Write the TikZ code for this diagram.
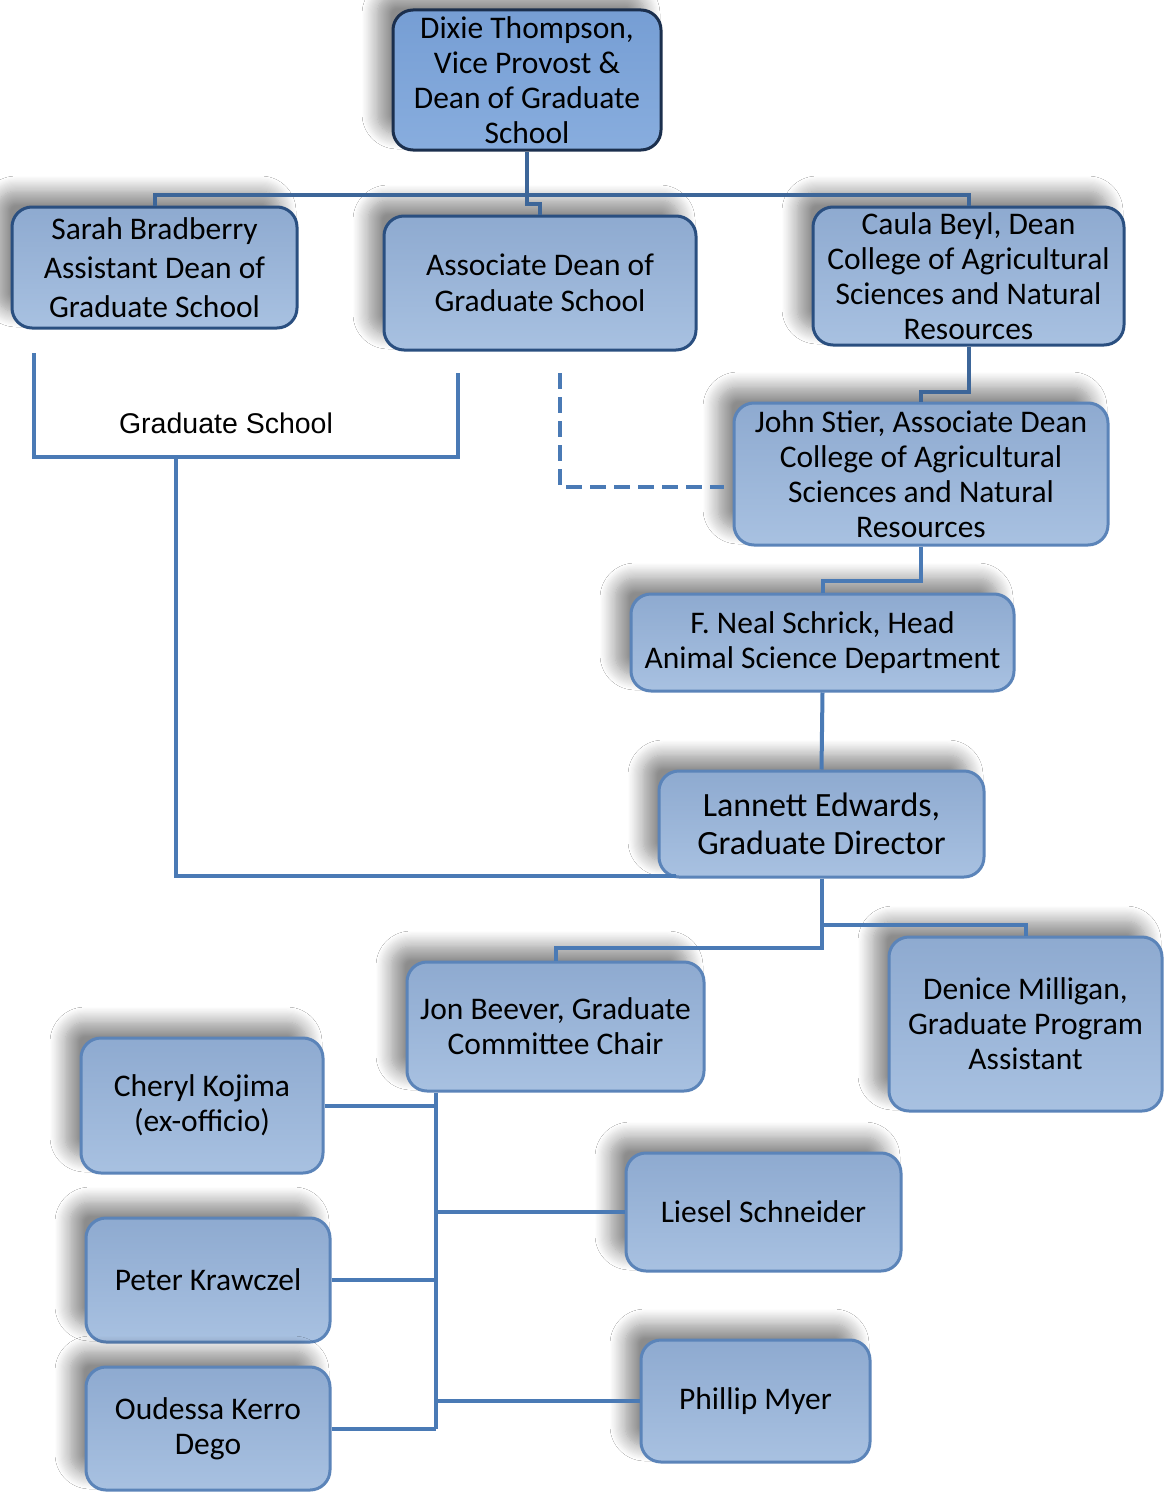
\documentclass[tikz,border=0pt]{standalone}
\usepackage{fontspec}
\setmainfont{Carlito}
\newfontfamily\arialf{Liberation Sans}
\usetikzlibrary{shadows.blur,calc}
\definecolor{connc}{RGB}{74,122,181}
\definecolor{connd}{RGB}{61,102,153}
\definecolor{fillA}{RGB}{142,170,208}
\definecolor{fillB}{RGB}{168,193,225}
\definecolor{lineL}{RGB}{91,132,185}
\definecolor{lineD}{RGB}{42,79,128}
\definecolor{lineX}{RGB}{27,47,77}
\definecolor{topA}{RGB}{118,158,212}
\definecolor{topB}{RGB}{136,173,222}
\tikzset{
  box/.style={draw=lineL, line width=3pt, rounded corners=20pt,
    top color=fillA, bottom color=fillB, align=center, inner sep=0pt,
    text=black, font=\fontsize{31.5}{35}\selectfont,
    blur shadow={shadow xshift=-16pt, shadow yshift=16pt, shadow blur radius=15pt, shadow blur steps=14, shadow opacity=45}},
  darkbox/.style={box, draw=lineD},
  topbox/.style={box, draw=lineX, top color=topA, bottom color=topB},
  conn/.style={draw=connc, line width=4pt},
  tconn/.style={draw=connd, line width=4pt},
}
\begin{document}
\begin{tikzpicture}[x=1pt,y=-1pt]
\useasboundingbox (0,0) rectangle (1165,1493);
\fill[white] (0,0) rectangle (1165,1493);

\coordinate (busL) at (154.5,195);
\coordinate (busR) at (968.5,195);

\node[topbox, minimum width=268pt, minimum height=140pt] (dixie) at (527,80) {Dixie Thompson,\\Vice Provost \&\\Dean of Graduate\\School};
\node[darkbox, minimum width=285pt, minimum height=121pt, font=\fontsize{31.5}{39}\selectfont] (sarah) at (154.5,267.5) {Sarah Bradberry\\Assistant Dean of\\Graduate School};
\node[darkbox, minimum width=312pt, minimum height=134pt, font=\fontsize{31.5}{36}\selectfont] (assoc) at (540,283) {Associate Dean of\\Graduate School};
\node[darkbox, minimum width=311pt, minimum height=138pt] (caula) at (968.5,276) {Caula Beyl, Dean\\College of Agricultural\\Sciences and Natural\\Resources};
\node[box, minimum width=374pt, minimum height=142pt] (john) at (921,474) {John Stier, Associate Dean\\College of Agricultural\\Sciences and Natural\\Resources};
\node[box, minimum width=383pt, minimum height=97pt] (neal) at (822.5,642.5) {F. Neal Schrick, Head\\Animal Science Department};
\node[box, minimum width=325pt, minimum height=106pt, font=\fontsize{34}{38}\selectfont] (lannett) at (821.5,824) {Lannett Edwards,\\Graduate Director};
\node[box, minimum width=297pt, minimum height=129pt] (jon) at (555.5,1026.5) {Jon Beever, Graduate\\Committee Chair};
\node[box, minimum width=273pt, minimum height=174pt] (denice) at (1025.5,1024) {Denice Milligan,\\Graduate Program\\Assistant};
\node[box, minimum width=242pt, minimum height=135pt] (cheryl) at (202,1105.5) {Cheryl Kojima\\(ex-officio)};
\node[box, minimum width=275pt, minimum height=118pt] (liesel) at (763.5,1212) {Liesel Schneider};
\node[box, minimum width=244pt, minimum height=124pt] (peter) at (208,1280) {Peter Krawczel};
\node[box, minimum width=229pt, minimum height=122pt] (phillip) at (755.5,1401) {Phillip Myer};
\node[box, minimum width=244pt, minimum height=123pt] (oudessa) at (208,1428.5) {Oudessa Kerro\\Dego};

% top bus
\draw[tconn] (sarah.north) -- (busL) -- (busR) -- (caula.north);
\draw[tconn] (dixie.south) -- (dixie.south |- 0,204) -| (assoc.north);
\draw[tconn] (caula.south) -- (caula.south |- 0,392) -| (john.north);
\draw[conn] (john.south) -- (john.south |- 0,581) -| (neal.north);
\draw[conn] (neal.south) -- (lannett.north);
\draw[conn] (lannett.south) -- (lannett.south |- 0,948) -| (jon.north);
\draw[conn] (lannett.south) -- (lannett.south |- 0,925) -| (denice.north);

% Graduate School bracket
\coordinate (gsTL) at (34,353);
\coordinate (gsBL) at (34,457);
\coordinate (gsBR) at (458,457);
\coordinate (gsTR) at (458,373);
\coordinate (gsDrop) at (176,457);
\node[font=\arialf\fontsize{28.5}{32}\selectfont, inner sep=0pt] (gslabel) at (226,423) {Graduate School};
\draw[conn, line join=miter] (gsTL) -- (gsBL) -- (gsBR) -- (gsTR);
\draw[conn] (gsDrop) |- ([xshift=18pt,yshift=3pt]lannett.south west);

% dashed link
\coordinate (dashtop) at (560,373);
\draw[conn, dash pattern=on 16pt off 8pt] (dashtop) |- ([xshift=-9pt,yshift=-13pt]john.west);

% committee trunk
\coordinate (trunk) at ([xshift=30pt]jon.south west);
\draw[conn] (trunk) -- (trunk |- oudessa.east);
\draw[conn] (cheryl.east) -- (cheryl.east -| trunk);
\draw[conn] (peter.east) -- (peter.east -| trunk);
\draw[conn] (oudessa.east) -- (oudessa.east -| trunk);
\draw[conn] (liesel.west) -- (liesel.west -| trunk);
\draw[conn] (phillip.west) -- (phillip.west -| trunk);
\end{tikzpicture}
\end{document}
